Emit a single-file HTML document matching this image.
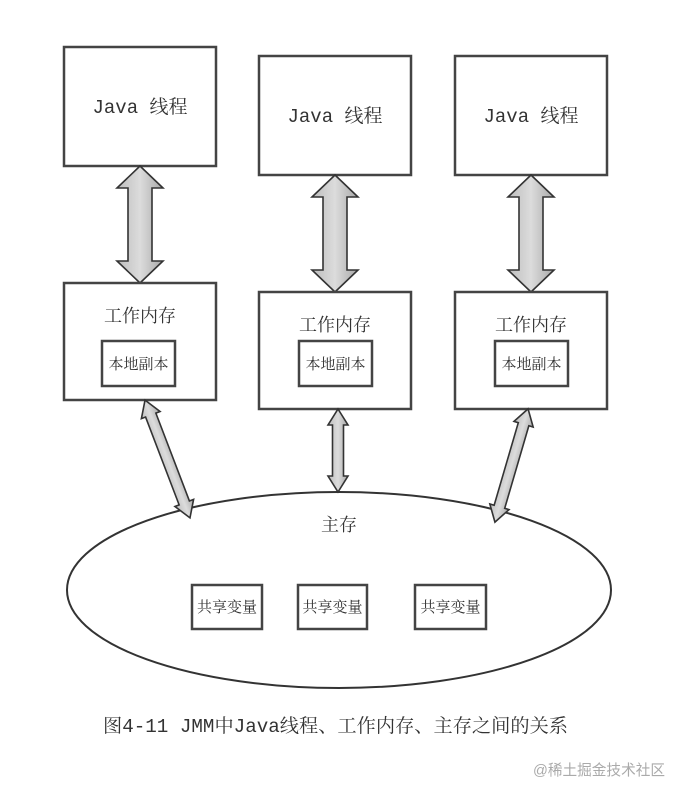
<!DOCTYPE html>
<html><head><meta charset="utf-8"><style>
html,body{margin:0;padding:0;background:#fff;width:684px;height:799px;overflow:hidden}
svg{display:block}
text{font-family:"Liberation Mono","Noto Serif CJK SC",serif;fill:#333}
.b{fill:#fff;stroke:#444;stroke-width:2.5}
.a{fill:url(#g);stroke:#333;stroke-width:1.6;stroke-linejoin:miter}
</style></head><body>
<svg width="684" height="799" viewBox="0 0 684 799">
<defs>
<linearGradient id="g" x1="0" x2="1" y1="0" y2="0">
<stop offset="0" stop-color="#bdbdbd"/><stop offset="0.5" stop-color="#dcdcdc"/><stop offset="1" stop-color="#a8a8a8"/>
</linearGradient>
</defs>
<rect class="b" x="64" y="47" width="152" height="119"/>
<rect class="b" x="259" y="56" width="152" height="119"/>
<rect class="b" x="455" y="56" width="152" height="119"/>
<text x="140" y="113" font-size="19" text-anchor="middle">Java 线程</text>
<text x="335" y="122" font-size="19" text-anchor="middle">Java 线程</text>
<text x="531" y="122" font-size="19" text-anchor="middle">Java 线程</text>
<path class="a" d="M140,166 L163,188 L152,188 L152,261 L163,261 L140,283 L117,261 L128,261 L128,188 L117,188 Z"/>
<path class="a" d="M335,175 L358,197 L347,197 L347,270 L358,270 L335,292 L312,270 L323,270 L323,197 L312,197 Z"/>
<path class="a" d="M531,175 L554,197 L543,197 L543,270 L554,270 L531,292 L508,270 L519,270 L519,197 L508,197 Z"/>
<rect class="b" x="64" y="283" width="152" height="117"/>
<rect class="b" x="259" y="292" width="152" height="117"/>
<rect class="b" x="455" y="292" width="152" height="117"/>
<text x="140" y="322" font-size="18" text-anchor="middle">工作内存</text>
<text x="335" y="331" font-size="18" text-anchor="middle">工作内存</text>
<text x="531" y="331" font-size="18" text-anchor="middle">工作内存</text>
<rect class="b" x="102" y="341" width="73" height="45"/>
<rect class="b" x="299" y="341" width="73" height="45"/>
<rect class="b" x="495" y="341" width="73" height="45"/>
<text x="138.5" y="369" font-size="15" text-anchor="middle">本地副本</text>
<text x="335.5" y="369" font-size="15" text-anchor="middle">本地副本</text>
<text x="531.5" y="369" font-size="15" text-anchor="middle">本地副本</text>
<ellipse cx="339" cy="590" rx="272" ry="98" fill="#fff" stroke="#333" stroke-width="2"/>
<g transform="translate(167.5,459) rotate(-20.9)">
<path class="a" d="M0,-63 L10,-47 L5.5,-47 L5.5,47 L10,47 L0,63 L-10,47 L-5.5,47 L-5.5,-47 L-10,-47 Z"/></g>
<g transform="translate(338,450.5)">
<path class="a" d="M0,-41.5 L10,-25.5 L5.5,-25.5 L5.5,25.5 L10,25.5 L0,41.5 L-10,25.5 L-5.5,25.5 L-5.5,-25.5 L-10,-25.5 Z"/></g>
<g transform="translate(511.5,465.5) rotate(16.3)">
<path class="a" d="M0,-59 L10,-43 L5.5,-43 L5.5,43 L10,43 L0,59 L-10,43 L-5.5,43 L-5.5,-43 L-10,-43 Z"/></g>
<text x="339" y="531" font-size="18" text-anchor="middle">主存</text>
<rect class="b" x="192" y="585" width="70" height="44"/>
<rect class="b" x="298" y="585" width="69" height="44"/>
<rect class="b" x="415" y="585" width="71" height="44"/>
<text x="227" y="612" font-size="15" text-anchor="middle">共享变量</text>
<text x="332.5" y="612" font-size="15" text-anchor="middle">共享变量</text>
<text x="450.5" y="612" font-size="15" text-anchor="middle">共享变量</text>
<text x="103" y="732" font-size="19" textLength="465" lengthAdjust="spacingAndGlyphs" fill="#222">图4-11  JMM中Java线程、工作内存、主存之间的关系</text>
<text x="533" y="775" font-size="15" textLength="132" lengthAdjust="spacingAndGlyphs" style="font-family:'Liberation Sans','Noto Sans CJK SC',sans-serif;fill:#aaa">@稀土掘金技术社区</text>
</svg>
</body></html>
